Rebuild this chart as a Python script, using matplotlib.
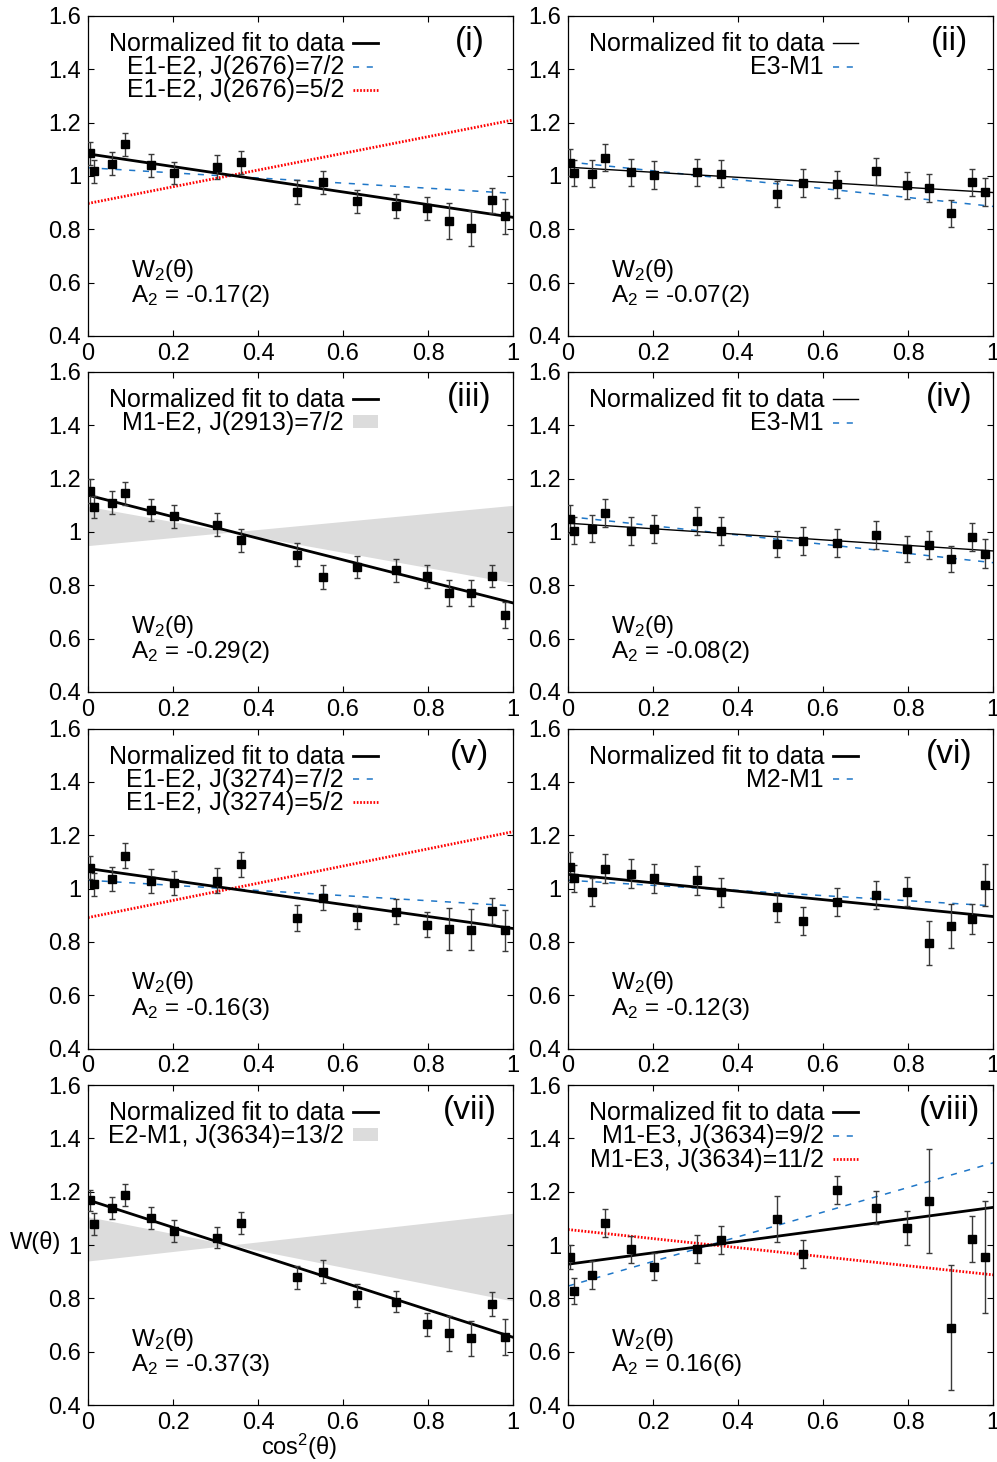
import numpy as np
import matplotlib
matplotlib.use("Agg")
import matplotlib.pyplot as plt
from matplotlib.lines import Line2D
from matplotlib.patches import Patch

plt.rcParams["font.family"] = ["Liberation Sans", "DejaVu Sans"]
plt.rcParams["mathtext.fontset"] = "custom"
plt.rcParams["mathtext.rm"] = "Liberation Sans"
plt.rcParams["mathtext.it"] = "Liberation Sans:italic"

# cos^2(theta) of the detector angles (same for all panels)
cos2 = [0.004, 0.014, 0.056, 0.087, 0.148, 0.202, 0.304, 0.359, 0.491,
        0.553, 0.633, 0.724, 0.798, 0.849, 0.900, 0.950, 0.981]

# (i)
w_i = [1.085, 1.018, 1.046, 1.119, 1.040, 1.011, 1.033, 1.051, 0.940,
       0.976, 0.906, 0.888, 0.879, 0.830, 0.804, 0.909, 0.849]
e_i = [0.044, 0.043, 0.043, 0.044, 0.042, 0.042, 0.044, 0.044, 0.045,
       0.044, 0.043, 0.045, 0.043, 0.068, 0.065, 0.046, 0.066]
fit_i = [1.083, 0.845]
dash_i = [1.031, 0.935]
dot_i = [0.897, 1.210]

# (ii)
w_ii = [1.050, 1.011, 1.008, 1.069, 1.014, 1.004, 1.014, 1.009, 0.931,
        0.974, 0.969, 1.018, 0.965, 0.954, 0.860, 0.976, 0.941]
e_ii = [0.050, 0.050, 0.051, 0.052, 0.050, 0.051, 0.050, 0.052, 0.049,
        0.051, 0.050, 0.051, 0.050, 0.053, 0.051, 0.050, 0.052]
fit_ii = [1.033, 0.938]
dash_ii = [1.053, 0.886]

# (iii)
w_iii = [1.153, 1.094, 1.109, 1.146, 1.081, 1.059, 1.028, 0.969, 0.914,
         0.831, 0.868, 0.856, 0.834, 0.771, 0.770, 0.835, 0.689]
e_iii = [0.045, 0.042, 0.043, 0.043, 0.041, 0.043, 0.043, 0.044, 0.043,
         0.044, 0.042, 0.043, 0.043, 0.050, 0.049, 0.043, 0.048]
fit_iii = [1.138, 0.734]
band_iii = ([1.096, 0.809], [0.949, 1.100])

# (iv)
w_iv = [1.050, 1.005, 1.013, 1.071, 1.003, 1.011, 1.041, 1.003, 0.955,
        0.966, 0.959, 0.989, 0.936, 0.950, 0.899, 0.981, 0.919]
e_iv = [0.052, 0.051, 0.051, 0.053, 0.052, 0.051, 0.052, 0.052, 0.050,
        0.052, 0.051, 0.051, 0.050, 0.053, 0.049, 0.051, 0.053]
fit_iv = [1.033, 0.929]
dash_iv = [1.058, 0.885]

# (v)
w_v = [1.078, 1.016, 1.036, 1.123, 1.029, 1.021, 1.030, 1.091, 0.889,
       0.966, 0.894, 0.913, 0.865, 0.849, 0.846, 0.916, 0.844]
e_v = [0.044, 0.044, 0.046, 0.047, 0.046, 0.046, 0.047, 0.047, 0.049,
       0.046, 0.046, 0.047, 0.046, 0.078, 0.076, 0.050, 0.077]
fit_v = [1.075, 0.850]
dash_v = [1.031, 0.935]
dot_v = [0.891, 1.213]

# (vi)
w_vi = [1.081, 1.038, 0.988, 1.074, 1.055, 1.038, 1.031, 0.986, 0.930,
        0.878, 0.949, 0.976, 0.988, 0.796, 0.860, 0.886, 1.013]
e_vi = [0.055, 0.052, 0.053, 0.054, 0.054, 0.053, 0.054, 0.055, 0.055,
        0.054, 0.053, 0.054, 0.054, 0.082, 0.082, 0.055, 0.080]
fit_vi = [1.053, 0.895]
dash_vi = [1.031, 0.935]

# (vii)
w_vii = [1.168, 1.079, 1.138, 1.186, 1.100, 1.054, 1.028, 1.081, 0.879,
         0.899, 0.811, 0.788, 0.703, 0.669, 0.650, 0.778, 0.654]
e_vii = [0.040, 0.041, 0.041, 0.041, 0.041, 0.041, 0.041, 0.041, 0.043,
         0.043, 0.042, 0.041, 0.043, 0.065, 0.066, 0.046, 0.067]
fit_vii = [1.169, 0.654]
band_vii = ([1.106, 0.790], [0.940, 1.119])

# (viii)
w_viii = [0.956, 0.828, 0.888, 1.083, 0.984, 0.918, 0.985, 1.019, 1.098,
          0.966, 1.206, 1.139, 1.063, 1.165, 0.690, 1.023, 0.955]
e_viii = [0.045, 0.050, 0.053, 0.052, 0.051, 0.051, 0.051, 0.053, 0.086,
          0.051, 0.051, 0.062, 0.063, 0.196, 0.234, 0.086, 0.211]
fit_viii = [0.928, 1.141]
dash_viii = [0.846, 1.308]
dot_viii = [1.058, 0.888]

tags = ["(i)", "(ii)", "(iii)", "(iv)", "(v)", "(vi)", "(vii)", "(viii)"]
a2_text = ["-0.17(2)", "-0.07(2)", "-0.29(2)", "-0.08(2)",
           "-0.16(3)", "-0.12(3)", "-0.37(3)", "0.16(6)"]
xticklabels = ["0", "0.2", "0.4", "0.6", "0.8", "1"]
yticklabels = ["0.4", "0.6", "0.8", "1", "1.2", "1.4", "1.6"]

BLUE = "#1f77c8"
RED = "#ff0000"
GRAY = "#dcdcdc"

panels = [
    dict(w=w_i, e=e_i, fit=fit_i, lw=2.0,
         dash=(dash_i, "E1-E2, J(2676)=7/2"), dot=(dot_i, "E1-E2, J(2676)=5/2")),
    dict(w=w_ii, e=e_ii, fit=fit_ii, lw=1.0, dash=(dash_ii, "E3-M1")),
    dict(w=w_iii, e=e_iii, fit=fit_iii, lw=2.0, band=(band_iii, "M1-E2, J(2913)=7/2")),
    dict(w=w_iv, e=e_iv, fit=fit_iv, lw=1.0, dash=(dash_iv, "E3-M1")),
    dict(w=w_v, e=e_v, fit=fit_v, lw=2.0,
         dash=(dash_v, "E1-E2, J(3274)=7/2"), dot=(dot_v, "E1-E2, J(3274)=5/2")),
    dict(w=w_vi, e=e_vi, fit=fit_vi, lw=2.0, dash=(dash_vi, "M2-M1")),
    dict(w=w_vii, e=e_vii, fit=fit_vii, lw=2.0, band=(band_vii, "E2-M1, J(3634)=13/2")),
    dict(w=w_viii, e=e_viii, fit=fit_viii, lw=2.0,
         dash=(dash_viii, "M1-E3, J(3634)=9/2"), dot=(dot_viii, "M1-E3, J(3634)=11/2")),
]

fig = plt.figure(figsize=(9.97, 14.62), dpi=100)
W, H = 997.0, 1462.0
lefts = [88, 568]
tops = [16, 372, 728.5, 1085]
aw, ah = 425, 320

ends = [0.0, 1.0]
xx = np.linspace(0, 1, 201)

for k, p in enumerate(panels):
    r, c = divmod(k, 2)
    ax = fig.add_axes([lefts[c] / W, 1 - (tops[r] + ah) / H, aw / W, ah / H])
    handles = []

    if "band" in p:
        (la, lb), lab = p["band"]
        ya = np.interp(xx, ends, la)
        yb = np.interp(xx, ends, lb)
        ax.fill_between(xx, np.minimum(ya, yb), np.maximum(ya, yb),
                        color=GRAY, lw=0, zorder=1)

    ax.plot(ends, p["fit"], color="black", lw=p["lw"], zorder=3)
    handles.append((Line2D([], [], color="black", lw=p["lw"]), "Normalized fit to data"))

    if "dash" in p:
        vals, lab = p["dash"]
        ax.plot(ends, vals, color=BLUE, lw=1.1, dashes=(4, 5), zorder=2)
        handles.append((Line2D([], [], color=BLUE, lw=1.1, dashes=(4, 5)), lab))
    if "dot" in p:
        vals, lab = p["dot"]
        ax.plot(ends, vals, color=RED, lw=2.0, ls=(0, (0.6, 0.6)), zorder=2)
        handles.append((Line2D([], [], color=RED, lw=2.0, ls=(0, (0.6, 0.6))), lab))
    if "band" in p:
        handles.append((Patch(facecolor=GRAY, edgecolor="none"), p["band"][1]))

    ax.errorbar(cos2, p["w"], yerr=p["e"], fmt="s", color="black", ms=6.3,
                ecolor="#3a3a3a", elinewidth=1.0, capsize=2, capthick=1.0, zorder=4)

    ax.set_xlim(0, 1)
    ax.set_ylim(0.4, 1.6)
    ax.set_xticks(np.arange(0, 1.01, 0.2))
    ax.set_xticklabels(xticklabels)
    ax.set_yticks(np.arange(0.4, 1.61, 0.2))
    ax.set_yticklabels(yticklabels)
    ax.tick_params(direction="in", top=True, right=True, length=4, width=0.8,
                   labelsize=17, pad=5)
    for s in ax.spines.values():
        s.set_linewidth(0.9)

    ax.legend([h for h, _ in handles], [l for _, l in handles],
              loc="upper right", bbox_to_anchor=(0.682, 0.95),
              frameon=False, markerfirst=False, fontsize=18,
              borderpad=0, borderaxespad=0, labelspacing=-0.03,
              handlelength=1.0, handletextpad=0.35, handleheight=0.4)

    ax.text(0.898, 0.893, tags[k], transform=ax.transAxes, ha="center",
            va="baseline", fontsize=24)
    ax.text(0.101, 0.185, r"W$_\mathregular{2}$(θ)", transform=ax.transAxes,
            ha="left", va="baseline", fontsize=17.5)
    ax.text(0.101, 0.106, r"A$_\mathregular{2}$ = " + a2_text[k], transform=ax.transAxes,
            ha="left", va="baseline", fontsize=17.5)

fig.text(10 / W, 1 - 1243 / H, "W(θ)", ha="left", va="center", fontsize=17)
fig.text(299 / W, 1 - 1455 / H, r"cos$^\mathregular{2}$(θ)", ha="center",
         va="baseline", fontsize=17)

fig.savefig("out.png", dpi=100)
